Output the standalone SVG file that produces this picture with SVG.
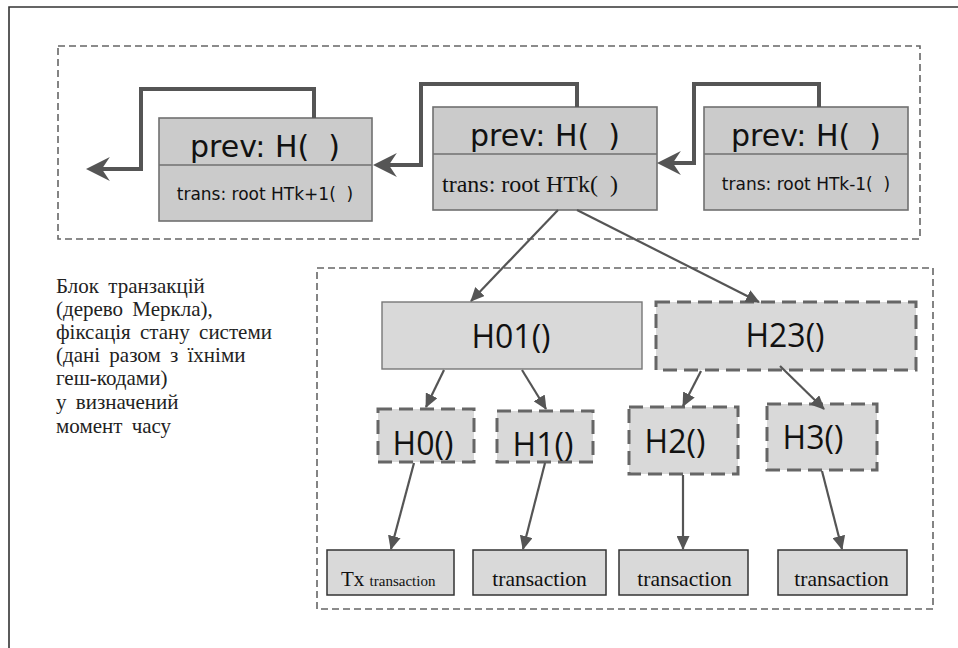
<svg xmlns="http://www.w3.org/2000/svg" width="958" height="648" viewBox="0 0 958 648">
<style>
.frame{fill:none;stroke:#333;stroke-width:1.6}
.group{fill:none;stroke:#666;stroke-width:1.6;stroke-dasharray:7 4}
.blk{fill:#cbcbcb;stroke:#707070;stroke-width:1.6}
.node{fill:#d9d9d9;stroke:#777;stroke-width:1.4}
.dnode{fill:#d9d9d9;stroke:#666;stroke-width:3;stroke-dasharray:14 7}
.tx{fill:#d9d9d9;stroke:#333;stroke-width:1.5}
.big{fill:none;stroke:#555;stroke-width:4}
.edge{fill:none;stroke:#555;stroke-width:2.2}
.prev{font-family:"DejaVu Sans",sans-serif;font-size:30px;fill:#111;text-anchor:middle}
.trans{font-family:"DejaVu Sans",sans-serif;font-size:17px;fill:#111;text-anchor:middle}
.serif{font-family:"Liberation Serif","Times New Roman",serif;fill:#111}
.h{font-family:"Open Sans",sans-serif;font-size:32px;fill:#111;text-anchor:middle}
.note{font-family:"Liberation Serif","Times New Roman",serif;font-size:21px;fill:#222;word-spacing:4px}
</style>
<defs>
<marker id="chev" markerUnits="userSpaceOnUse" markerWidth="24" markerHeight="24" viewBox="0 0 21 21" refX="13" refY="10.5" orient="auto">
<path d="M0,0 L21,10.5 L0,21 L7,10.5 Z" fill="#555"/>
</marker>
<marker id="tri" markerUnits="userSpaceOnUse" markerWidth="14" markerHeight="13" viewBox="0 0 14 13" refX="13" refY="6.5" orient="auto">
<path d="M0,0 L14,6.5 L0,13 Z" fill="#555"/>
</marker>
</defs>
<rect width="958" height="648" fill="#fff"/>
<path class="frame" d="M9,650 V7 H960"/>
<rect class="group" x="58" y="46" width="862" height="193"/>
<rect class="group" x="317" y="268" width="616" height="341"/>

<g id="block-k1">
<rect class="blk" x="159" y="118" width="213" height="103"/>
<line x1="159" y1="165" x2="372" y2="165" stroke="#707070" stroke-width="1.6"/>
<text class="prev" x="265" y="157" xml:space="preserve">prev: H(  )</text>
<text class="trans" x="265" y="200" xml:space="preserve">trans: root HTk+1(  )</text>
</g>
<g id="block-k">
<rect class="blk" x="433" y="107" width="224" height="103"/>
<line x1="433" y1="154" x2="657" y2="154" stroke="#707070" stroke-width="1.6"/>
<text class="prev" x="545" y="146" xml:space="preserve">prev: H(  )</text>
<text class="serif" x="442" y="192" font-size="24" xml:space="preserve">trans: root HTk(  )</text>
</g>
<g id="block-km1">
<rect class="blk" x="704" y="107" width="204" height="103"/>
<line x1="704" y1="154" x2="908" y2="154" stroke="#707070" stroke-width="1.6"/>
<text class="prev" x="806" y="146" xml:space="preserve">prev: H(  )</text>
<text class="trans" x="806" y="190" xml:space="preserve">trans: root HTk-1(  )</text>
</g>

<g id="note">
<text class="note" x="56" y="293">Блок транзакцій</text>
<text class="note" x="56" y="316">(дерево Меркла),</text>
<text class="note" x="56" y="339">фіксація стану системи</text>
<text class="note" x="56" y="362">(дані разом з їхніми</text>
<text class="note" x="56" y="385">геш-кодами)</text>
<text class="note" x="56" y="409">у визначений</text>
<text class="note" x="56" y="433">момент часу</text>
</g>

<g id="H01"><rect class="node" x="382" y="302" width="260" height="67"/><text class="h" x="511" y="348">H01()</text></g>
<g id="H23"><rect class="dnode" x="656" y="302" width="260" height="68"/><text class="h" x="785" y="347">H23()</text></g>
<g id="H0"><rect class="dnode" x="378" y="409" width="96" height="53"/><text class="h" x="423" y="455">H0()</text></g>
<g id="H1"><rect class="dnode" x="497" y="411" width="96" height="51"/><text class="h" x="543" y="456">H1()</text></g>
<g id="H2"><rect class="dnode" x="629" y="407" width="109" height="67"/><text class="h" x="675" y="453">H2()</text></g>
<g id="H3"><rect class="dnode" x="767" y="404" width="110" height="66"/><text class="h" x="813" y="449">H3()</text></g>

<g id="tx0"><rect class="tx" x="327" y="550" width="127" height="45"/><text class="serif" x="341" y="586" font-size="21">Tx <tspan font-size="15">transaction</tspan></text></g>
<g id="tx1"><rect class="tx" x="473" y="550" width="133" height="45"/><text class="serif" x="539.5" y="586" font-size="21.5" text-anchor="middle">transaction</text></g>
<g id="tx2"><rect class="tx" x="619" y="550" width="129" height="45"/><text class="serif" x="684.5" y="586" font-size="21.5" text-anchor="middle">transaction</text></g>
<g id="tx3"><rect class="tx" x="778" y="550" width="129" height="45"/><text class="serif" x="841.5" y="586" font-size="21.5" text-anchor="middle">transaction</text></g>

<g id="connectors">
<path class="big" d="M314,118 V89 H141 V169 H95" marker-end="url(#chev)"/>
<path class="big" d="M577,107 V84 H421 V165 H382" marker-end="url(#chev)"/>
<path class="big" d="M819,107 V84 H694 V163 H666" marker-end="url(#chev)"/>
<line class="edge" x1="558" y1="210" x2="471" y2="301" marker-end="url(#tri)"/>
<line class="edge" x1="577" y1="210" x2="759" y2="302" marker-end="url(#tri)"/>
<line class="edge" x1="444" y1="370" x2="426" y2="407" marker-end="url(#tri)"/>
<line class="edge" x1="522" y1="370" x2="546" y2="409" marker-end="url(#tri)"/>
<line class="edge" x1="701" y1="371" x2="683" y2="406" marker-end="url(#tri)"/>
<line class="edge" x1="780" y1="366" x2="824" y2="409" marker-end="url(#tri)"/>
<line class="edge" x1="414" y1="463" x2="391" y2="549" marker-end="url(#tri)"/>
<line class="edge" x1="545" y1="463" x2="523" y2="549" marker-end="url(#tri)"/>
<line class="edge" x1="683" y1="475" x2="683" y2="549" marker-end="url(#tri)"/>
<line class="edge" x1="822" y1="471" x2="842" y2="549" marker-end="url(#tri)"/>
</g>
</svg>
